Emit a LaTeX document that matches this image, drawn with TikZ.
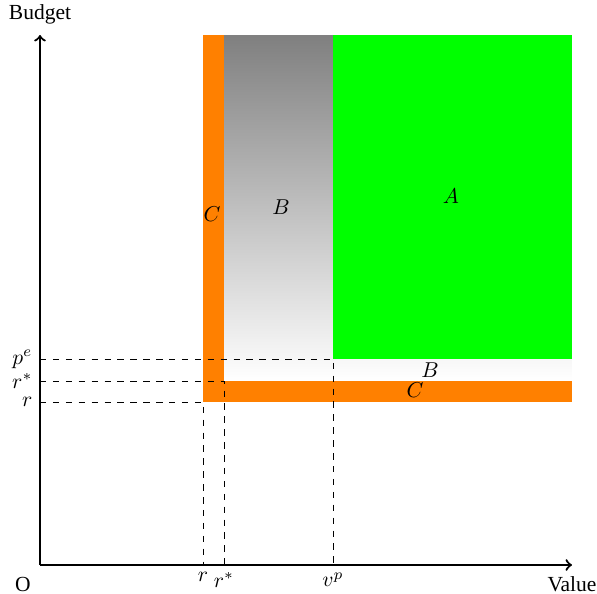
\documentclass[tikz,border=0pt]{standalone}
\usepackage{fontspec}
\setmainfont{Liberation Serif}
\begin{document}
\begin{tikzpicture}[x=0.465pt,y=-0.465pt,
  axis/.style={line width=1pt,->},
  guide/.style={dashed,line width=0.4pt},
  lab/.style={inner sep=0pt}]
\useasboundingbox (0,0) rectangle (597,594);
% coordinates
\coordinate (O) at (40,565);
\coordinate (Xend) at (572,565);
\coordinate (Yend) at (40,35);
% regions
\shade[top color=gray, bottom color=white] (224,35) rectangle (572,381);
\fill[green] (333,35) rectangle (572,359);
\fill[orange] (203,35) rectangle (224,402);
\fill[orange] (203,381) rectangle (572,402);
% dashed guides
\coordinate (pe) at (40,359);
\coordinate (rs) at (40,381);
\coordinate (rr) at (40,402);
\coordinate (xr) at (203,565);
\coordinate (xrs) at (224,565);
\coordinate (xvp) at (333,565);
\draw[guide] (pe) -- (333,359) -- (xvp);
\draw[guide] (rs) -- (224,381) -- (xrs);
\draw[guide] (rr) -- (203,402) -- (xr);
% axes
\draw[axis] (O) -- (Xend);
\draw[axis] (O) -- (Yend);
% axis labels
\node (budget) at (40,14) {Budget};
\node (value) at (572,584) {Value};
\node (origin) at (23,584) {O};
\node[left] (lpe) at (pe) {$p^e$};
\node[left] (lrs) at (rs) {$r^*$};
\node[left] (lr) at (rr) {$r$};
\node[below] (lxr) at (xr) {$r$};
\node[below] (lxrs) at (xrs) {$r^*$};
\node[below] (lxvp) at (xvp) {$v^p$};
% region labels
\node (A) at (451,196) {$A$};
\node (B1) at (281,207) {$B$};
\node (C1) at (212,214) {$C$};
\node (B2) at (430,370) {$B$};
\node (C2) at (415,390) {$C$};
\end{tikzpicture}
\end{document}
